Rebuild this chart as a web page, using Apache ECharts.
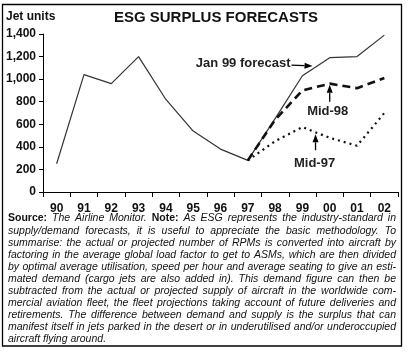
<!DOCTYPE html>
<html>
<head>
<meta charset="utf-8">
<script src="https://cdn.jsdelivr.net/npm/echarts@6/dist/echarts.min.js"></script>
<style>
html,body{margin:0;padding:0;background:#fff;}
#c{width:409px;height:354px;}
</style>
</head>
<body>
<div id="c"></div>
<script>
const categories = ['90','91','92','93','94','95','96','97','98','99','00','01','02'];
const jan99Values = [250,1040,960,1200,820,540,380,280,650,1030,1190,1200,1390];
const mid98Values = [null,null,null,null,null,null,null,280,640,900,960,920,1010];
const mid97Values = [null,null,null,null,null,null,null,280,450,575,480,410,700];
const yMin = 0, yMax = 1400, yStep = 200;
const titleText = 'ESG SURPLUS FORECASTS';
const yUnitText = 'Jet units';
const noteLines = [
  'Source: The Airline Monitor. Note: As ESG represents the industry-standard in',
  'supply/demand forecasts, it is useful to appreciate the basic methodology. To',
  'summarise: the actual or projected number of RPMs is converted into aircraft by',
  'factoring in the average global load factor to get to ASMs, which are then divided',
  'by optimal average utilisation, speed per hour and average seating to give an esti-',
  'mated demand (cargo jets are also added in). This demand figure can then be',
  'subtracted from the actual or projected supply of aircraft in the worldwide com-',
  'mercial aviation fleet, the fleet projections taking account of future deliveries and',
  'retirements. The difference between demand and supply is the surplus that can',
  'manifest itself in jets parked in the desert or in underutilised and/or underoccupied',
  'aircraft flying around.'
];
const uprightWords = ['Source:', 'Note:'];

const FONT = '"Liberation Sans", Arial, sans-serif';
const chart = echarts.init(document.getElementById('c'), null, {renderer: 'canvas'});

chart.setOption({
  backgroundColor: '#fff',
  animation: false,
  grid: {left: 43, right: 11, top: 34, bottom: 162},
  xAxis: {
    type: 'category',
    data: categories,
    boundaryGap: true,
    axisLine: {lineStyle: {color: '#000', width: 1}},
    axisTick: {show: true, length: 5, inside: false, lineStyle: {color: '#000'}},
    axisLabel: {color: '#111', fontSize: 12, fontWeight: 'bold', fontFamily: FONT, margin: 11, interval: 0},
    splitLine: {show: false}
  },
  yAxis: {
    type: 'value',
    min: yMin, max: yMax, interval: yStep,
    axisLine: {show: true, lineStyle: {color: '#000', width: 1}},
    axisTick: {show: true, length: 4, lineStyle: {color: '#000'}},
    axisLabel: {color: '#111', fontSize: 12, fontWeight: 'bold', fontFamily: FONT, margin: 7,
      formatter: v => v.toLocaleString('en-US')},
    splitLine: {show: false}
  },
  series: [
    {name: 'Jan 99 forecast', type: 'line', data: jan99Values, symbol: 'none',
      lineStyle: {color: '#333', width: 1.2}, z: 3},
    {name: 'Mid-98', type: 'line', data: mid98Values, symbol: 'none', connectNulls: false,
      lineStyle: {color: '#111', width: 2.6, type: [8, 5]}, z: 4},
    {name: 'Mid-97', type: 'line', data: mid97Values, symbol: 'none', connectNulls: false,
      lineStyle: {color: '#111', width: 2.2, type: [2, 4]}, z: 4}
  ]
});

function px(i, v) { return chart.convertToPixel({xAxisIndex: 0, yAxisIndex: 0}, [i, v]); }
function lerp(a, b, t) { return [a[0] + (b[0] - a[0]) * t, a[1] + (b[1] - a[1]) * t]; }

const graphics = [];
graphics.push({type: 'rect', shape: {x: 2.5, y: 4.5, width: 399, height: 341.5},
  style: {fill: 'none', stroke: '#000', lineWidth: 1.3}, z: 0, silent: true});
graphics.push({type: 'text', x: 216, y: 18, style: {text: titleText, font: 'bold 15px ' + FONT,
  fill: '#111', textAlign: 'center', textVerticalAlign: 'middle'}});
graphics.push({type: 'text', x: 6, y: 17, style: {text: yUnitText, font: 'bold 12px ' + FONT,
  fill: '#111', textAlign: 'left', textVerticalAlign: 'middle'}});

function arrow(tail, tip, list) {
  const dx = tip[0] - tail[0], dy = tip[1] - tail[1];
  const L = Math.hypot(dx, dy), ux = dx / L, uy = dy / L;
  const hl = 8, hw = 3;
  const base = [tip[0] - ux * hl, tip[1] - uy * hl];
  list.push({type: 'line', shape: {x1: tail[0], y1: tail[1], x2: base[0], y2: base[1]},
    style: {stroke: '#000', lineWidth: 1.3}, z: 10});
  list.push({type: 'polygon', shape: {points: [tip, [base[0] - uy * hw, base[1] + ux * hw], [base[0] + uy * hw, base[1] - ux * hw]]},
    style: {fill: '#000'}, z: 10});
}
const annoFont = 'bold 13px ' + FONT;
{
  const p = lerp(px(9, jan99Values[9]), px(10, jan99Values[10]), 0.37);
  const tip = [p[0], p[1] - 3];
  const tail = [tip[0] - 21, tip[1] - 1];
  arrow(tail, tip, graphics);
  graphics.push({type: 'text', x: tail[0] - 1, y: tail[1] - 2, style: {text: 'Jan 99 forecast', font: annoFont,
    fill: '#222', textAlign: 'right', textVerticalAlign: 'middle'}, z: 10});
}
{
  const p = px(10, mid98Values[10]);
  const tip = [p[0], p[1] + 1];
  const tail = [tip[0], tip[1] + 17];
  arrow(tail, tip, graphics);
  graphics.push({type: 'text', x: tip[0] - 2, y: tail[1] + 10, style: {text: 'Mid-98', font: annoFont,
    fill: '#222', textAlign: 'center', textVerticalAlign: 'middle'}, z: 10});
}
{
  const p = lerp(px(9, mid97Values[9]), px(10, mid97Values[10]), 0.48);
  const tip = [p[0], p[1] + 2];
  const tail = [tip[0], tip[1] + 16];
  arrow(tail, tip, graphics);
  graphics.push({type: 'text', x: tip[0] - 1, y: tail[1] + 13, style: {text: 'Mid-97', font: annoFont,
    fill: '#222', textAlign: 'center', textVerticalAlign: 'middle'}, z: 10});
}

const mctx = document.createElement('canvas').getContext('2d');
const noteSize = 10.5;
const italicFont = 'italic ' + noteSize + 'px ' + FONT;
const uprightFont = 'bold ' + noteSize + 'px ' + FONT;
const textLeft = 8, textRight = 396, firstLineY = 218.5, lineGap = 12.1;
noteLines.forEach((line, li) => {
  const words = line.split(' ');
  const fonts = words.map(w => (li === 0 && uprightWords.includes(w)) ? uprightFont : italicFont);
  const widths = words.map((w, i) => { mctx.font = fonts[i]; return mctx.measureText(w).width; });
  mctx.font = italicFont;
  const spaceW = mctx.measureText(' ').width;
  const sum = widths.reduce((a, b) => a + b, 0);
  const target = textRight - textLeft;
  const justify = li < noteLines.length - 1;
  let gap = spaceW, scale = 1;
  if (justify) {
    gap = (target - sum) / (words.length - 1);
    const minGap = spaceW * 0.75;
    if (gap < minGap) {
      scale = target / (sum + minGap * (words.length - 1));
      gap = minGap * scale;
    }
  }
  let x = textLeft;
  const y = firstLineY + li * lineGap;
  words.forEach((w, i) => {
    graphics.push({type: 'text', x: x, y: y, scaleX: scale, originX: x, originY: y,
      style: {text: w, font: fonts[i], fill: '#111', textAlign: 'left', textVerticalAlign: 'middle'}});
    x += widths[i] * scale + gap;
  });
});

chart.setOption({graphic: graphics});
</script>
</body>
</html>
